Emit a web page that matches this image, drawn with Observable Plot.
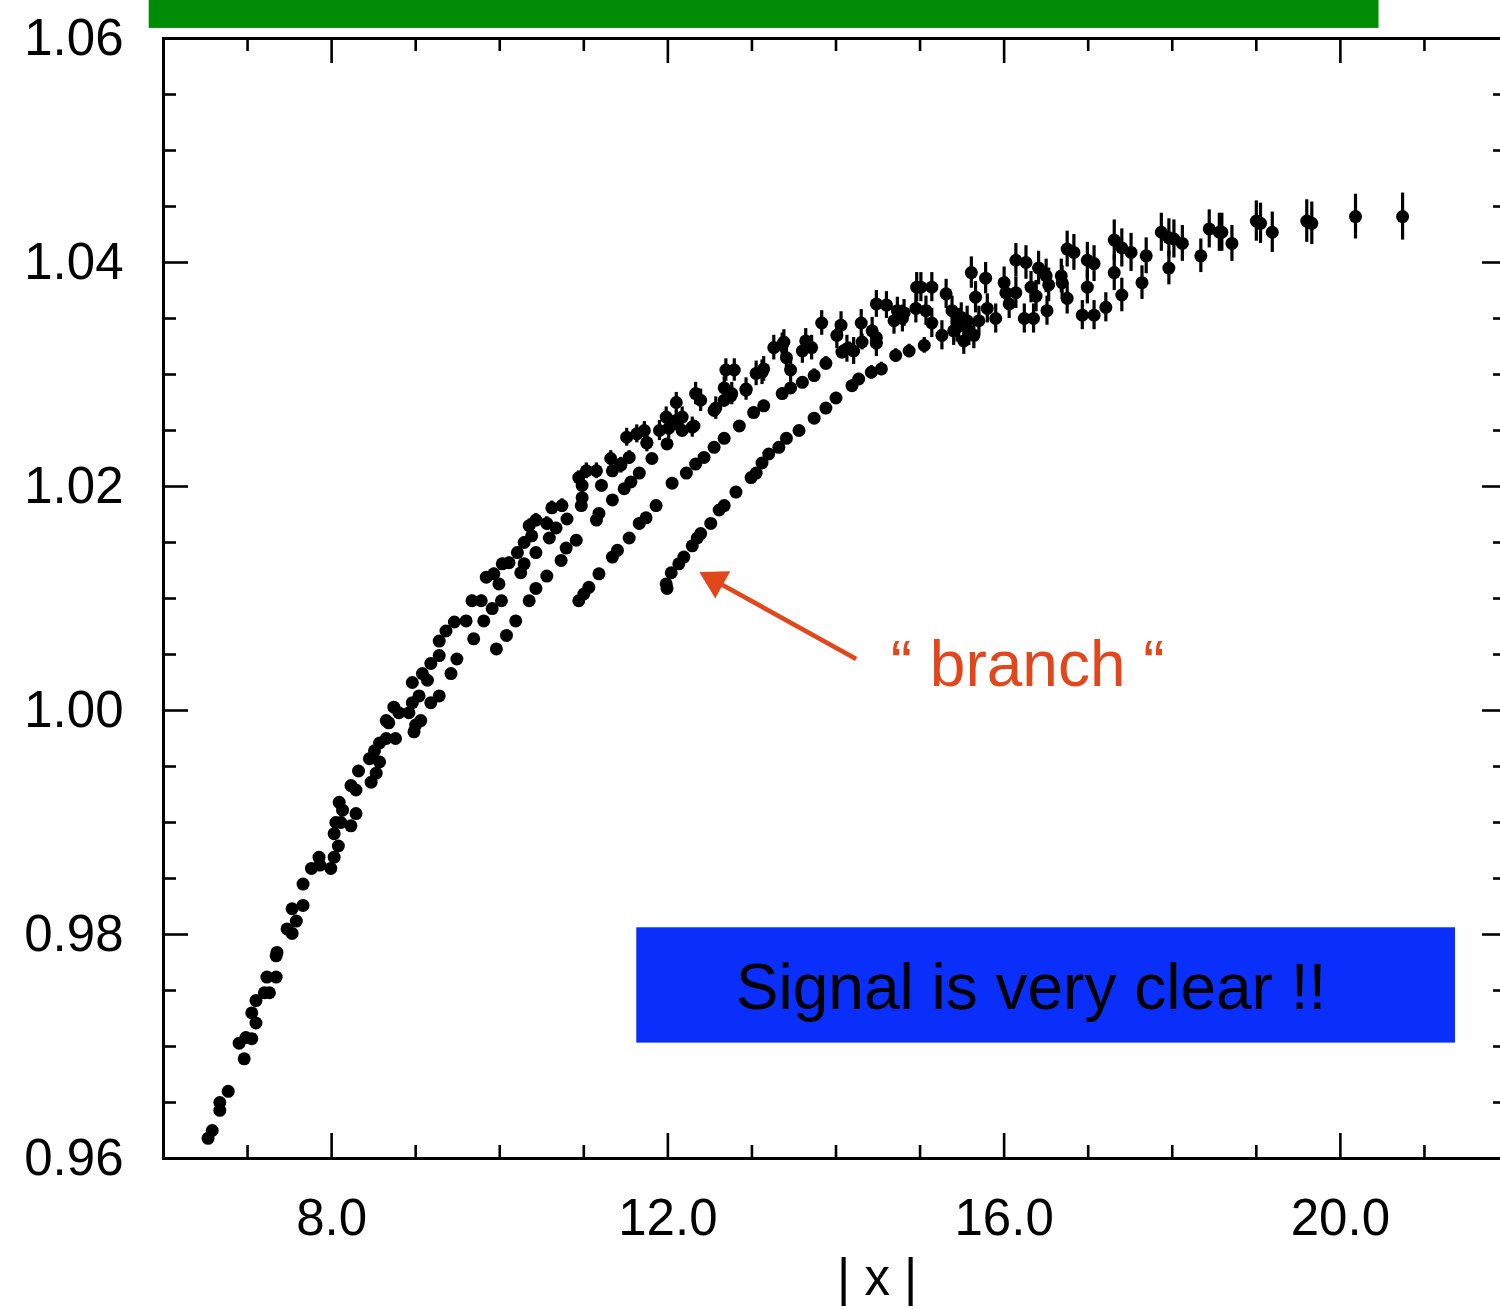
<!DOCTYPE html>
<html>
<head>
<meta charset="utf-8">
<script src="https://cdn.jsdelivr.net/npm/d3@7"></script>
<script src="https://cdn.jsdelivr.net/npm/@observablehq/plot@0.6"></script>
<style>
  html, body { margin: 0; padding: 0; overflow: hidden; background: white; }
  svg { max-width: none !important; display: block; }
</style>
</head>
<body>
<div id="chart"></div>
<script>
// ---- data: [|x|, value, error] ----
const mainBand = [
[6.53,0.9618,0.0002],[6.58,0.9625,0.0002],[6.67,0.9643,0.0002],[6.67,0.9650,0.0002],[6.77,0.9660,0.0002],
[6.90,0.9703,0.0002],[6.96,0.9689,0.0003],[6.98,0.9708,0.0002],[7.05,0.9707,0.0002],[7.10,0.9721,0.0002],
[7.05,0.9730,0.0002],[7.10,0.9741,0.0002],[7.20,0.9748,0.0002],[7.26,0.9748,0.0002],[7.23,0.9762,0.0002],
[7.34,0.9762,0.0002],[7.34,0.9781,0.0002],[7.35,0.9784,0.0002],[7.47,0.9805,0.0002],[7.53,0.9801,0.0002],
[7.58,0.9812,0.0002],[7.53,0.9823,0.0002],[7.66,0.9826,0.0002],[7.66,0.9845,0.0002],[7.76,0.9859,0.0002],
[7.85,0.9869,0.0002],[7.86,0.9862,0.0002],[7.99,0.9859,0.0002],[8.03,0.9869,0.0002],[8.08,0.9879,0.0003],
[8.03,0.9890,0.0002],[8.05,0.9900,0.0002],[8.11,0.9900,0.0002],[8.23,0.9897,0.0002],[8.29,0.9908,0.0002],
[8.09,0.9918,0.0002],[8.13,0.9911,0.0002],[8.23,0.9933,0.0002],[8.29,0.9929,0.0002],[8.32,0.9946,0.0002],
[8.47,0.9936,0.0002],[8.53,0.9944,0.0002],[8.45,0.9957,0.0002],[8.51,0.9964,0.0002],[8.57,0.9954,0.0002],
[8.57,0.9971,0.0003],[8.65,0.9975,0.0003],[8.76,0.9975,0.0003],[8.65,0.9991,0.0003],[8.68,0.9989,0.0003],
[8.74,1.0003,0.0003],[8.80,0.9998,0.0003],[8.92,0.9998,0.0003],[8.96,1.0007,0.0003],[9.04,1.0013,0.0003],
[8.96,1.0025,0.0003],[9.08,1.0033,0.0003],[9.14,1.0027,0.0003],[9.18,1.0042,0.0003],[9.28,1.0049,0.0004],
[9.28,1.0062,0.0004],[9.36,1.0071,0.0004],[9.46,1.0079,0.0004],[9.60,1.0080,0.0004],[9.67,1.0098,0.0005],
[9.78,1.0098,0.0005],[9.84,1.0119,0.0005],[9.93,1.0122,0.0005],[9.99,1.0113,0.0005],[10.03,1.0131,0.0005],
[10.11,1.0132,0.0005],[10.21,1.0141,0.0005],[10.29,1.0150,0.0005],[10.35,1.0165,0.0006],[10.43,1.0170,0.0006],
[10.38,1.0156,0.0005],[10.56,1.0167,0.0006],[10.62,1.0181,0.0006],[10.74,1.0183,0.0006],[10.67,1.0163,0.0005],
[10.94,1.0208,0.0006],[11.03,1.0214,0.0007],[11.15,1.0214,0.0007],[10.98,1.0201,0.0006],[11.32,1.0225,0.0007],
[11.44,1.0219,0.0007],[11.51,1.0244,0.0008],[11.63,1.0247,0.0008],[11.72,1.0250,0.0008],[11.75,1.0239,0.0008],
[11.90,1.0250,0.0009],[12.01,1.0252,0.0009],[11.98,1.0262,0.0009],[12.10,1.0259,0.0009],[12.17,1.0262,0.0009],
[12.29,1.0253,0.0009],[12.10,1.0275,0.0009],[12.33,1.0283,0.0010],[12.39,1.0277,0.0010],[12.57,1.0270,0.0010],
[12.67,1.0288,0.0010],[12.69,1.0304,0.0010],[12.79,1.0304,0.0010],[12.76,1.0283,0.0010],[12.93,1.0287,0.0010],
[13.05,1.0301,0.0011],[13.14,1.0305,0.0011],[13.12,1.0302,0.0011],[13.26,1.0324,0.0011],[13.36,1.0326,0.0011],
[13.38,1.0329,0.0011],[13.41,1.0315,0.0011],[13.46,1.0304,0.0011],[13.60,1.0321,0.0011],[13.64,1.0330,0.0011],
[13.71,1.0324,0.0011],[13.83,1.0346,0.0011],[14.01,1.0335,0.0012],[14.06,1.0344,0.0012],[14.13,1.0323,0.0012],
[14.21,1.0321,0.0012],[14.30,1.0346,0.0012],[14.43,1.0339,0.0012],[14.48,1.0328,0.0012],[14.48,1.0363,0.0012],
[14.60,1.0362,0.0012],[14.73,1.0357,0.0012],[14.79,1.0350,0.0012],[14.69,1.0348,0.0012],[14.81,1.0355,0.0012],
[14.95,1.0359,0.0013],[14.96,1.0378,0.0013],[15.01,1.0378,0.0013],[15.14,1.0378,0.0013],[15.07,1.0357,0.0013],
[15.14,1.0346,0.0013],[15.26,1.0335,0.0013],[15.31,1.0372,0.0013],[15.38,1.0357,0.0013],[15.46,1.0346,0.0013],
[15.40,1.0339,0.0013],[15.52,1.0330,0.0012],[15.64,1.0335,0.0012],[15.49,1.0351,0.0013],[15.44,1.0342,0.0013],
[15.56,1.0348,0.0013],[15.61,1.0391,0.0014],[15.58,1.0339,0.0013],[15.66,1.0369,0.0014],[15.70,1.0348,0.0013],
[15.78,1.0386,0.0014],[15.80,1.0359,0.0013],[15.90,1.0350,0.0013],[16.00,1.0382,0.0014],[16.02,1.0373,0.0014],
[16.06,1.0363,0.0013],[16.14,1.0373,0.0014],[16.14,1.0402,0.0015],[16.26,1.0400,0.0015],[16.32,1.0378,0.0014],
[16.38,1.0370,0.0014],[16.24,1.0350,0.0013],[16.35,1.0350,0.0013],[16.41,1.0395,0.0015],[16.50,1.0388,0.0015],
[16.51,1.0357,0.0013],[16.53,1.0380,0.0015],[16.68,1.0388,0.0015],[16.69,1.0382,0.0015],[16.75,1.0368,0.0014],
[16.75,1.0412,0.0016],[16.83,1.0409,0.0016],[16.99,1.0402,0.0016],[17.07,1.0399,0.0016],[16.99,1.0378,0.0015],
[16.93,1.0353,0.0013],[17.07,1.0353,0.0013],[17.21,1.0360,0.0013],[17.31,1.0420,0.0018],[17.40,1.0413,0.0017],
[17.51,1.0409,0.0017],[17.31,1.0391,0.0016],[17.40,1.0371,0.0015],[17.64,1.0382,0.0015],[17.69,1.0406,0.0016],
[17.87,1.0427,0.0017],[17.96,1.0422,0.0017],[18.02,1.0421,0.0017],[18.12,1.0417,0.0016],[17.96,1.0395,0.0015],
[18.34,1.0406,0.0015],[18.44,1.0430,0.0017],[18.56,1.0427,0.0017],[18.59,1.0427,0.0017],[18.71,1.0417,0.0016],
[19.00,1.0437,0.0018],[19.05,1.0435,0.0018],[19.19,1.0427,0.0018],[19.60,1.0437,0.0019],[19.66,1.0435,0.0019],
[20.18,1.0441,0.0020],[20.74,1.0441,0.0021]
];
const branchFrom9 = [
[8.98,0.9981,0.0002],[9.00,0.9987,0.0002],[9.06,0.9991,0.0002],[9.18,1.0007,0.0002],[9.28,1.0013,0.0002],
[9.42,1.0033,0.0003],[9.49,1.0046,0.0003],[9.69,1.0064,0.0003],[9.81,1.0080,0.0003],[9.91,1.0091,0.0003],
[10.02,1.0098,0.0003],[10.25,1.0123,0.0004],[10.29,1.0131,0.0004],[10.43,1.0141,0.0004],[10.59,1.0154,0.0004],
[10.80,1.0171,0.0004],[10.97,1.0183,0.0005],[10.98,1.0190,0.0005],[11.21,1.0201,0.0005],[11.34,1.0214,0.0005],
[11.44,1.0220,0.0005],[11.54,1.0226,0.0006],[11.75,1.0239,0.0006]
];
const branchFrom10 = [
[9.96,1.0055,0.0002],[10.08,1.0067,0.0002],[10.19,1.0080,0.0002],[10.35,1.0098,0.0002],[10.43,1.0109,0.0002],
[10.56,1.0120,0.0003],[10.73,1.0134,0.0003],[10.79,1.0145,0.0003],[10.91,1.0152,0.0003],[11.15,1.0170,0.0003],
[11.18,1.0176,0.0003],[11.34,1.0188,0.0003],[11.48,1.0198,0.0004],[11.56,1.0204,0.0004],[11.66,1.0212,0.0004],
[11.81,1.0225,0.0004],[11.99,1.0238,0.0005],[12.17,1.0250,0.0005],[12.31,1.0254,0.0005],[12.55,1.0268,0.0006],
[12.67,1.0277,0.0006],[12.75,1.0281,0.0006],[12.93,1.0286,0.0006]
];
const branchFrom11 = [
[10.94,1.0098,0.0002],[11.00,1.0104,0.0002],[11.06,1.0110,0.0002],[11.18,1.0122,0.0002],[11.34,1.0137,0.0002],
[11.40,1.0143,0.0002],[11.54,1.0154,0.0002],[11.66,1.0167,0.0003],[11.74,1.0172,0.0003],[11.86,1.0183,0.0003],
[12.05,1.0203,0.0003],[12.22,1.0212,0.0003],[12.33,1.0220,0.0003],[12.43,1.0226,0.0004],[12.55,1.0235,0.0004],
[12.67,1.0243,0.0004],[12.85,1.0254,0.0004],[13.02,1.0266,0.0005],[13.14,1.0272,0.0005],[13.36,1.0283,0.0005],
[13.46,1.0288,0.0005],[13.60,1.0293,0.0005],[13.74,1.0299,0.0006],[13.88,1.0310,0.0006],[14.07,1.0320,0.0006],
[14.16,1.0323,0.0006],[14.31,1.0329,0.0007],[14.48,1.0333,0.0007]
];
const branchFrom12 = [
[11.98,1.0113,0.0002],[11.99,1.0109,0.0002],[12.04,1.0123,0.0002],[12.13,1.0131,0.0002],[12.19,1.0137,0.0002],
[12.29,1.0147,0.0002],[12.35,1.0154,0.0002],[12.39,1.0158,0.0002],[12.51,1.0167,0.0003],[12.61,1.0179,0.0003],
[12.67,1.0183,0.0003],[12.81,1.0195,0.0003],[12.99,1.0208,0.0003],[13.05,1.0212,0.0003],[13.12,1.0221,0.0004],
[13.20,1.0229,0.0004],[13.32,1.0235,0.0004],[13.41,1.0243,0.0004],[13.56,1.0250,0.0004],[13.74,1.0261,0.0005],
[13.88,1.0270,0.0005],[14.00,1.0279,0.0005],[14.19,1.0290,0.0005],[14.27,1.0296,0.0005],[14.42,1.0302,0.0006],
[14.54,1.0305,0.0006],[14.71,1.0317,0.0006],[14.87,1.0321,0.0006],[15.05,1.0326,0.0007]
];

// ---- axis ticks ----
const xMajor = [8, 12, 16, 20];
const xMinor = [7, 9, 10, 11, 13, 14, 15, 17, 18, 19, 21];
const yMajor = [0.96, 0.98, 1.00, 1.02, 1.04, 1.06];
const yMinor = [0.965, 0.97, 0.975, 0.985, 0.99, 0.995, 1.005, 1.01, 1.015,
                1.025, 1.03, 1.035, 1.045, 1.05, 1.055];

// ---- annotations (data coordinates) ----
const greenBar = [{x1: 5.83, x2: 20.46, y1: 1.0609, y2: 1.0640}];
const signalBox = [{x1: 11.63, x2: 21.37, y1: 0.9703, y2: 0.9806}];
const signalText = [{x: 16.32, y: 0.9752, text: "Signal is very clear !!"}];
const branchText = [{x: 16.28, y: 1.0040, text: "\u201C branch \u201C"}];
const arrowShaft = [{x1: 14.24, y1: 1.0046, x2: 12.58, y2: 1.0115}];
const arrowHead = [{x: 12.56, y: 1.0116}];
const xTitle = [{x: 14.49, y: 0.9493, text: "| x |"}];

const points = [...mainBand, ...branchFrom9, ...branchFrom10, ...branchFrom11, ...branchFrom12]
  .map(([x, y, e]) => ({x, y, e}));

const FONT = "'Liberation Sans', Helvetica, Arial, sans-serif";
const W = 1520, H = 1309, ML = 163, MR = 12, MT = 38, MB = 151;
const FW = W - ML - MR, FH = H - MT - MB;
const ORANGE = "#e2461b";

const chart = Plot.plot({
  width: W, height: H,
  marginLeft: ML, marginRight: MR, marginTop: MT, marginBottom: MB,
  style: {fontFamily: FONT, fontSize: "51px", background: "white", maxWidth: "none", color: "black"},
  x: {domain: [6, 22], ticks: xMajor, tickFormat: d => d.toFixed(1), tickSize: 0, tickPadding: 40, label: null},
  y: {domain: [0.96, 1.06], ticks: yMajor, tickFormat: d => d.toFixed(2), tickSize: 0, tickPadding: 40, label: null},
  marks: [
    Plot.rect(greenBar, {x1: "x1", x2: "x2", y1: "y1", y2: "y2", fill: "#018c05"}),
    Plot.rect(signalBox, {x1: "x1", x2: "x2", y1: "y1", y2: "y2", fill: "#0b2ffb"}),
    Plot.text(signalText, {x: "x", y: "y", text: "text", fontSize: 64, fill: "black", fontFamily: FONT}),
    // inward ticks
    Plot.tickY(yMajor, {y: d => d, insetRight: FW - 25, stroke: "black", strokeWidth: 2.6}),
    Plot.tickY(yMinor, {y: d => d, insetRight: FW - 13, stroke: "black", strokeWidth: 2.6}),
    Plot.tickY(yMajor, {y: d => d, insetLeft: FW - 26, stroke: "black", strokeWidth: 2.6}),
    Plot.tickY(yMinor, {y: d => d, insetLeft: FW - 15, stroke: "black", strokeWidth: 2.6}),
    Plot.tickX(xMajor, {x: d => d, insetBottom: FH - 25, stroke: "black", strokeWidth: 2.6}),
    Plot.tickX(xMinor, {x: d => d, insetBottom: FH - 13, stroke: "black", strokeWidth: 2.6}),
    Plot.tickX(xMajor, {x: d => d, insetTop: FH - 25, stroke: "black", strokeWidth: 2.6}),
    Plot.tickX(xMinor, {x: d => d, insetTop: FH - 13, stroke: "black", strokeWidth: 2.6}),
    Plot.frame({stroke: "black", strokeWidth: 3}),
    // data
    Plot.ruleX(points, {x: "x", y1: d => d.y - d.e, y2: d => d.y + d.e, stroke: "black", strokeWidth: 3.2}),
    Plot.dot(points, {x: "x", y: "y", r: 6.5, fill: "black", stroke: null}),
    // annotation
    Plot.link(arrowShaft, {x1: "x1", y1: "y1", x2: "x2", y2: "y2", stroke: ORANGE, strokeWidth: 4.5}),
    Plot.dot(arrowHead, {x: "x", y: "y", symbol: "triangle", r: 11.5, rotate: -61, fill: ORANGE, stroke: null}),
    Plot.text(branchText, {x: "x", y: "y", text: "text", fontSize: 64, fill: ORANGE, fontFamily: FONT}),
    Plot.text(xTitle, {x: "x", y: "y", text: "text", fontSize: 51, fill: "black", fontFamily: FONT})
  ]
});
document.getElementById("chart").appendChild(chart);
</script>
</body>
</html>
